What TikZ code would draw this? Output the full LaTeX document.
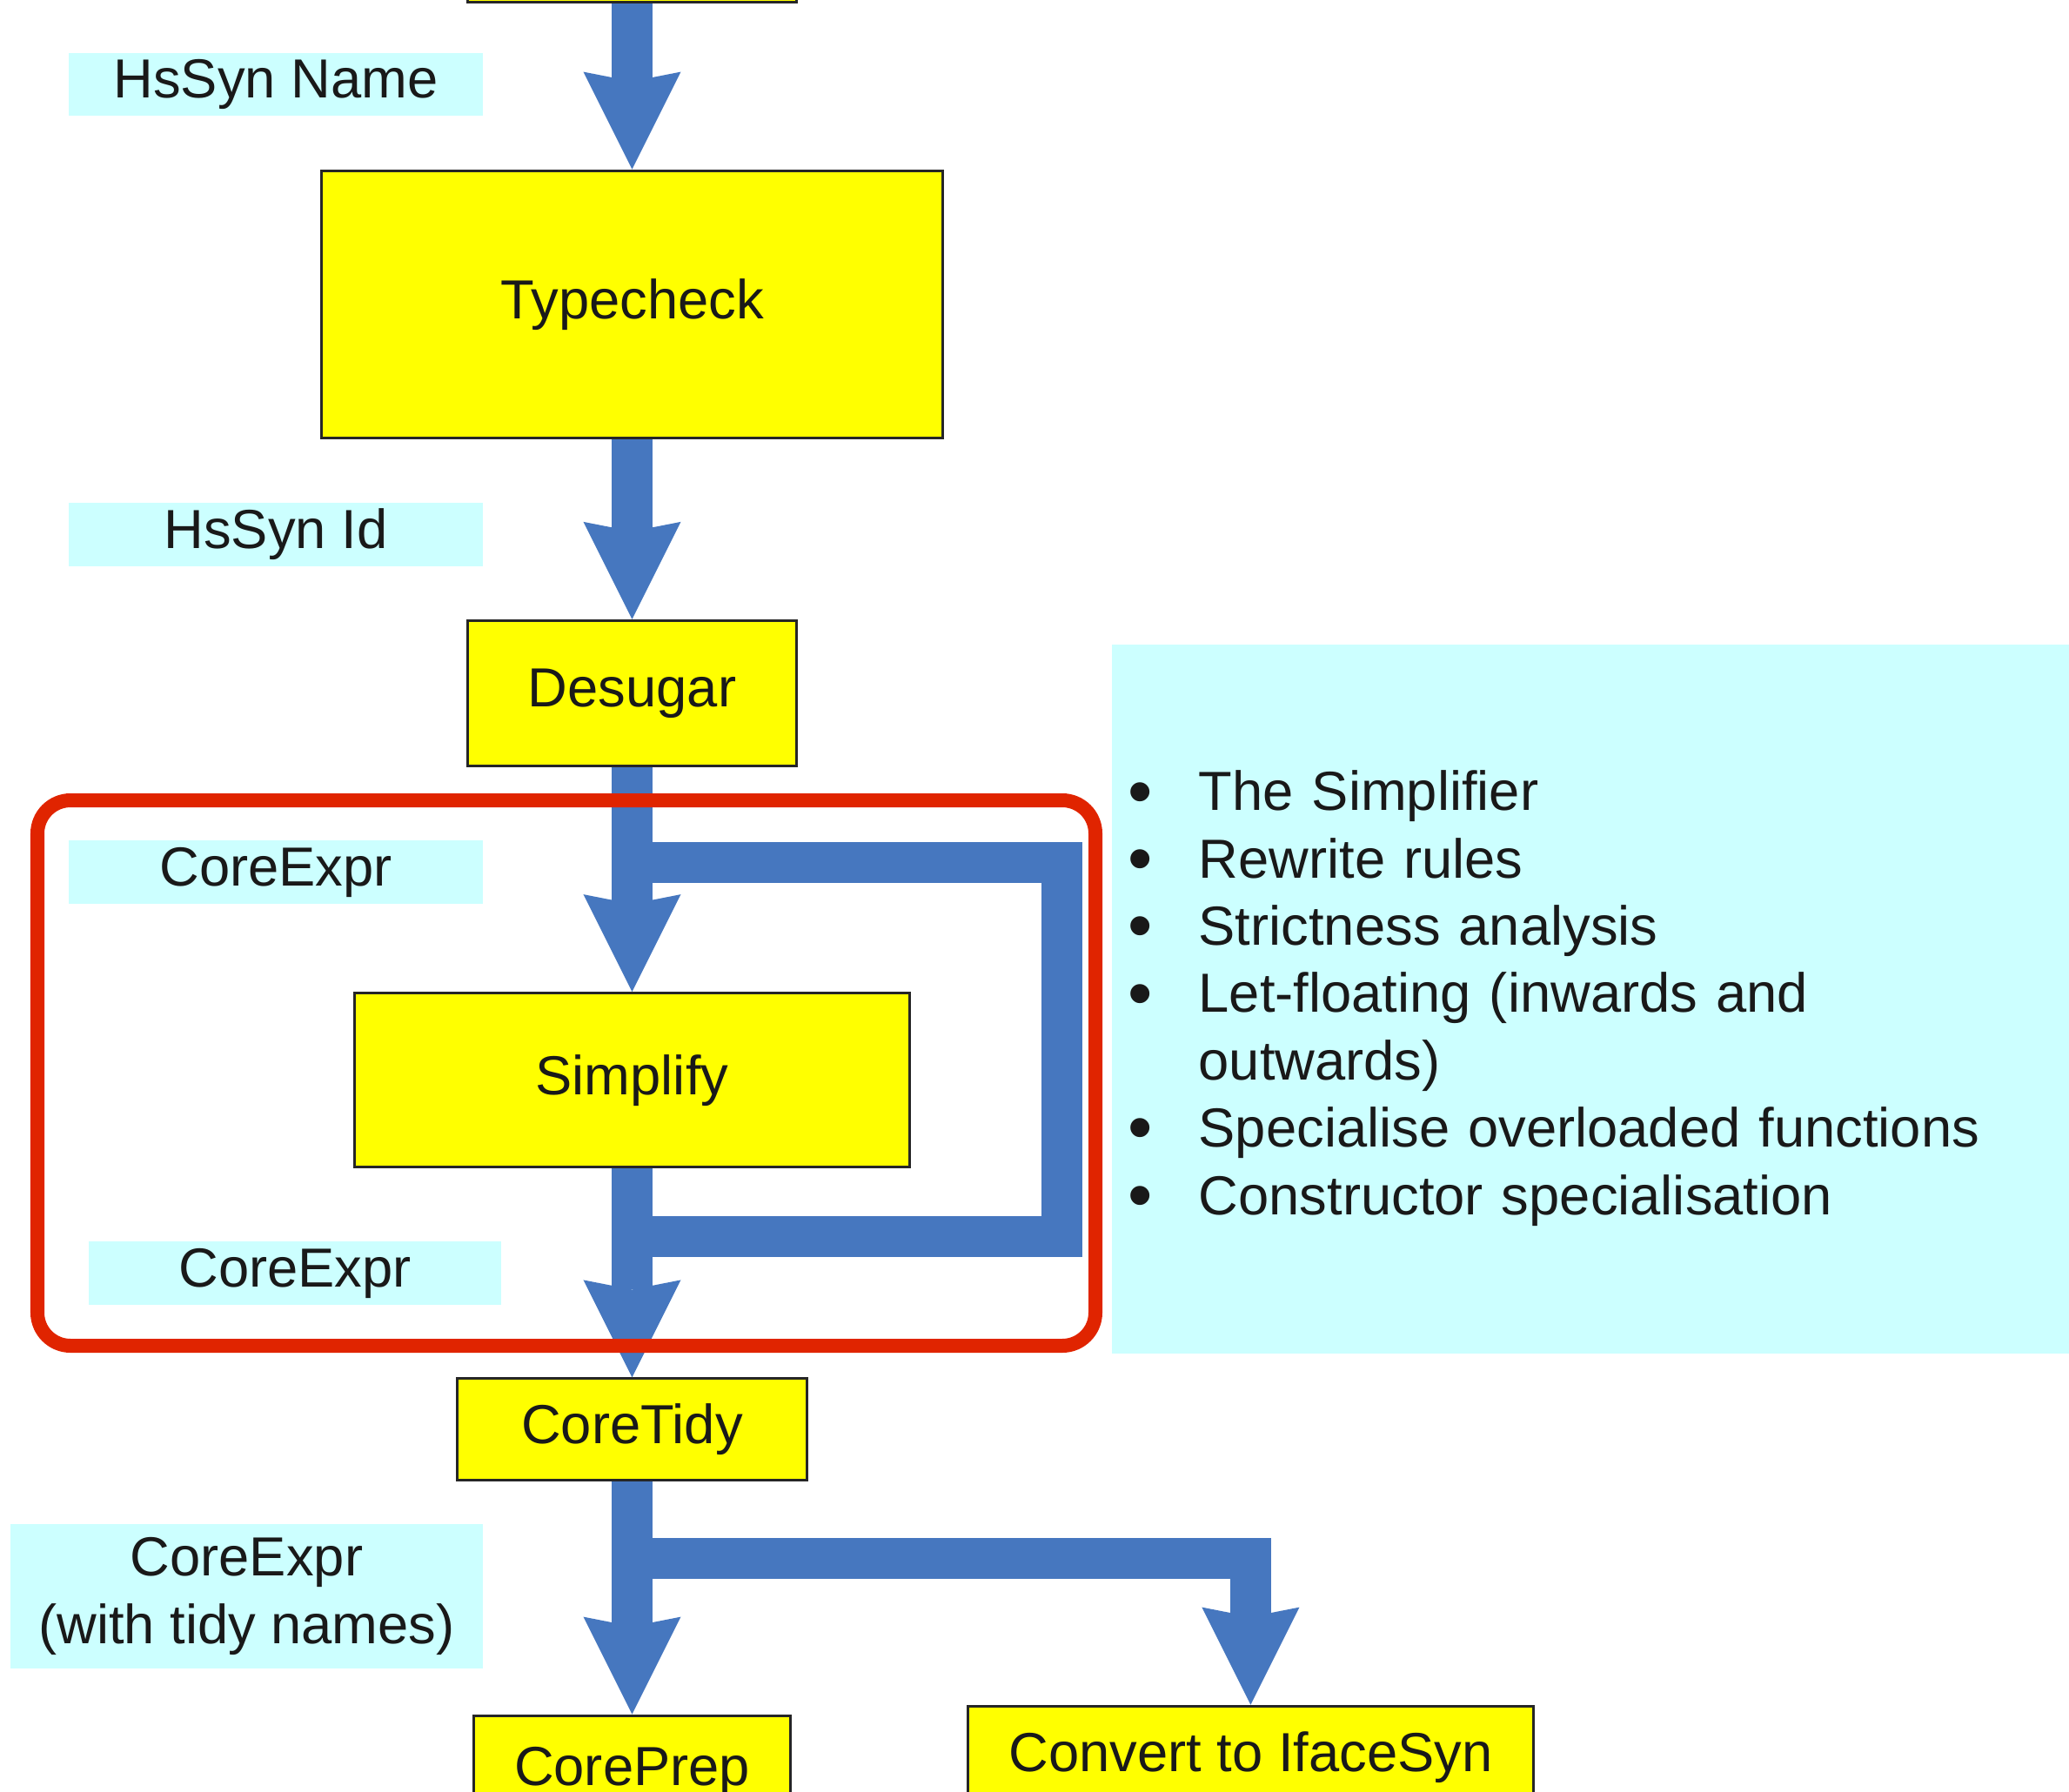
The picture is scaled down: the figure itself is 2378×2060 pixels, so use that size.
\documentclass[tikz,border=0pt]{standalone}
\usepackage{fontspec}
\setmainfont{Liberation Sans}
\usepackage{tikz}
\usetikzlibrary{
arrows.meta,
positioning
}
\definecolor{stageyellow}{HTML}{FFFF00}
\definecolor{flowblue}{HTML}{4677BF}
\definecolor{labelcyan}{HTML}{CCFFFF}
\definecolor{framered}{HTML}{E02400}
\newcommand{\infobullet}{\raisebox{-1.5pt}{\fontsize{23}{22}\selectfont\textbullet}}

\begin{document}
\begin{tikzpicture}[
x=0.01cm, y=-0.01cm,
font=\fontsize{18}{22}\selectfont,
stage/.style={
rectangle,
draw=black!85,
line width=0.03cm,
fill=stageyellow,
text=black!90,
inner sep=0pt,
align=center
},
typelabel/.style={
rectangle,
fill=labelcyan,
text=black!90,
inner sep=0pt,
minimum width=4.76cm,
minimum height=0.72cm,
align=center
},
flow/.style={
draw=flowblue,
line width=0.47cm,
line join=miter,
-{Stealth[length=1.12cm,width=1.12cm,inset=0.11cm,line width=0pt]}
},
loopband/.style={draw=flowblue, line width=0.47cm, line join=miter},
loopframe/.style={draw=framered, line width=0.16cm, rounded corners=0.38cm}
]
\useasboundingbox (0,0) rectangle (2378,2060);

% pipeline stages
\node[stage, minimum width=3.77cm, minimum height=1.1cm] (parse) at (726.5,-53) {};

\node[stage, below=1.91cm of parse, minimum width=7.13cm, minimum height=3.07cm] (typecheck)
{Typecheck};

\node[stage, below=2.07cm of typecheck, minimum width=3.77cm, minimum height=1.67cm] (desugar)
{Desugar};

\node[stage, below=2.58cm of desugar, minimum width=6.37cm, minimum height=2.00cm] (simplify)
{Simplify};

\node[stage, below=2.40cm of simplify, minimum width=4.02cm, minimum height=1.16cm] (coretidy)
{CoreTidy};

\node[stage, below=2.68cm of coretidy, minimum width=3.64cm, minimum height=1.30cm] (coreprep)
{CorePrep};

\node[stage, below right=2.57cm and 1.82cm of coretidy, minimum width=6.49cm, minimum height=1.18cm] (iface)
{Convert to IfaceSyn};

% types between stages
\node[typelabel] (hsname) at (317,97) {HsSyn Name};
\node[typelabel] (hsid) at (317,614.5) {HsSyn Id};
\node[typelabel] (corein) at (317,1002.5) {CoreExpr};
\node[typelabel, minimum width=4.74cm] (coreout) at (339,1463.5) {CoreExpr};
\node[typelabel, minimum width=5.43cm, minimum height=1.66cm] (coretidied) at (283.5,1835)
{CoreExpr\\(with tidy names)};

% what the simplifier does
\node[rectangle, fill=labelcyan, text=black!90, anchor=north west, inner xsep=0.19cm, inner ysep=0pt,
text width=10.92cm, minimum height=8.15cm, align=left] (simplinfo) at (1277,740)
{\begin{tabular}{@{}p{0.81cm}@{}l@{}}
\infobullet & The Simplifier\\
\infobullet & Rewrite rules\\
\infobullet & Strictness analysis\\
\infobullet & Let-floating (inwards and\\
 & outwards)\\
\infobullet & Specialise overloaded functions\\
\infobullet & Constructor specialisation
\end{tabular}};

% flow
\draw[flow] (parse.south) -- (typecheck.north);
\draw[flow] (typecheck.south) -- (desugar.north);
\draw[flow] (desugar.south) -- (simplify.north);
\draw[flow] (simplify.south) -- (coretidy.north);
\draw[flow] (coretidy.south) -- (coreprep.north);

\coordinate (loopstart) at (726.5,991.5);
\coordinate (loopend) at (726.5,1421.5);
\draw[loopband] (loopstart) -- ++(494,0) |- (loopend);

\coordinate (branch) at (726.5,1791);
\draw[flow] (branch) -| (iface.north);

\draw[loopframe] (43,920) rectangle (1259,1547);

\end{tikzpicture}
\end{document}
